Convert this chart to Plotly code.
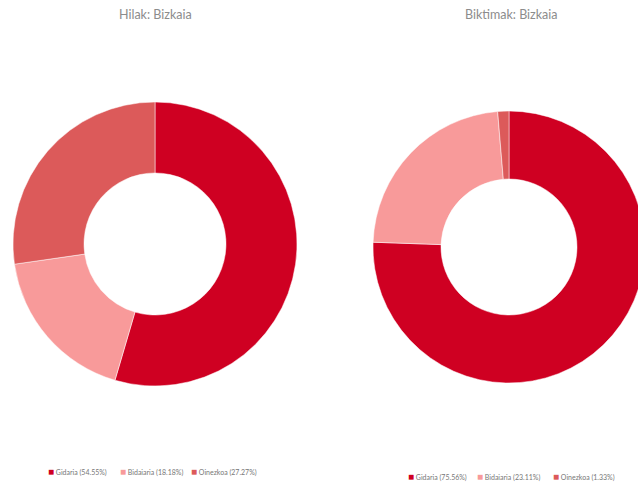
import plotly.graph_objects as go

labels = ["Gidaria", "Bidaiaria", "Oinezkoa"]
hilak_values = [54.55, 18.18, 27.27]
biktimak_values = [75.56, 23.11, 1.33]
colors = ["#cf0022", "#f89a9a", "#dc5a5a"]
titles = ["Hilak: Bizkaia", "Biktimak: Bizkaia"]

W, H = 660, 483

def legend_labels(vals):
    return [f"{l} ({v:.2f}%)" for l, v in zip(labels, vals)]

fig = go.Figure()
fig.add_trace(go.Pie(
    labels=legend_labels(hilak_values), values=hilak_values,
    hole=0.5, sort=False, direction="clockwise", rotation=0,
    marker=dict(colors=colors, line=dict(color="white", width=0.5)),
    textinfo="none", domain=dict(x=[12/W, 298/W], y=[97/H, 381/H]),
    showlegend=False,
))
fig.add_trace(go.Pie(
    labels=legend_labels(biktimak_values), values=biktimak_values,
    hole=0.5, sort=False, direction="clockwise", rotation=0,
    marker=dict(colors=colors, line=dict(color="white", width=0.5)),
    textinfo="none", domain=dict(x=[373/W, 645/W], y=[100/H, 372/H]),
    showlegend=False,
))

annotations = [
    dict(text=titles[0], x=155/W, y=1-14/H),
    dict(text=titles[1], x=511/W, y=1-14/H),
]
for a in annotations:
    a.update(xref="paper", yref="paper", showarrow=False,
             font=dict(family="Lato", size=12.5, color="#8c8c8c"),
             xanchor="center", yanchor="middle")

# custom legends (small square markers)
leg_left_x = [46, 118, 189]
leg_right_x = [406, 475, 551]
for vals, xs, yy in [(hilak_values, leg_left_x, 471), (biktimak_values, leg_right_x, 476)]:
    for lab, col, x in zip(legend_labels(vals), colors, xs):
        annotations.append(dict(
            text=f"<span style='color:{col};font-size:10px'>■</span> {lab}",
            x=x/W, y=1-yy/H, xref="paper", yref="paper", showarrow=False,
            xanchor="left", yanchor="middle",
            font=dict(family="Lato", size=7, color="#777"),
        ))

fig.update_layout(
    width=W, height=H,
    margin=dict(l=0, r=0, t=0, b=0, autoexpand=False),
    paper_bgcolor="white", plot_bgcolor="white",
    showlegend=False,
    annotations=annotations,
)
fig.write_html(
    "out.html",
    config={"displayModeBar": False},
    post_script="document.body.style.margin='0';document.body.style.overflow='hidden';"
                "document.documentElement.style.overflow='hidden';",
)
